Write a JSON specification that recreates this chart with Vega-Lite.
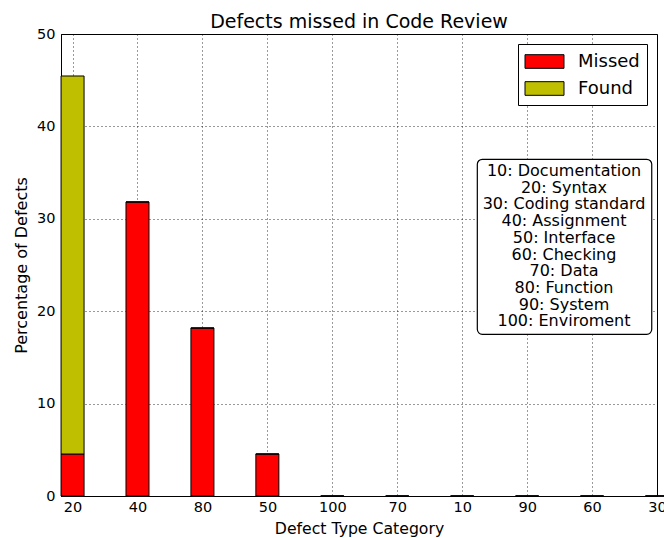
{
  "$schema": "https://vega.github.io/schema/vega-lite/v6.json",
  "width": 596,
  "height": 462,
  "autosize": {"type": "none"},
  "padding": {"left": 61, "top": 34, "right": 7, "bottom": 42},
  "title": {"text": "Defects missed in Code Review", "fontSize": 19, "font": "DejaVu Sans", "fontWeight": "normal", "color": "black", "anchor": "middle", "frame": "group", "offset": -6},
  "config": {
    "font": "DejaVu Sans",
    "view": {"stroke": "black", "strokeWidth": 1},
    "axis": {
      "domainColor": "black", "domainWidth": 1,
      "ticks": false,
      "grid": true, "gridColor": "black", "gridDash": [1, 3], "gridWidth": 0.8, "gridOpacity": 1,
      "labelFont": "DejaVu Sans", "labelFontSize": 14.5, "labelColor": "black",
      "titleFont": "DejaVu Sans", "titleFontSize": 15.7, "titleFontWeight": "normal", "titleColor": "black"
    },
    "legend": {
      "orient": "top-right", "offset": 10,
      "strokeColor": "black", "fillColor": "white", "padding": 7, "cornerRadius": 0,
      "labelFont": "DejaVu Sans", "labelFontSize": 18, "labelColor": "black",
      "symbolType": "M-2,-0.7H2V0.7H-2Z", "symbolSize": 380, "symbolStrokeColor": "black", "symbolStrokeWidth": 1, "symbolOpacity": 1,
      "symbolOffset": 9, "labelOffset": 23,
      "rowPadding": 7
    }
  },
  "layer": [
    {
      "data": {"values": [
        {"idx": 0, "code": "20", "status": "Missed", "pct": 4.545},
        {"idx": 0, "code": "20", "status": "Found", "pct": 40.91},
        {"idx": 1, "code": "40", "status": "Missed", "pct": 31.82},
        {"idx": 1, "code": "40", "status": "Found", "pct": 0},
        {"idx": 2, "code": "80", "status": "Missed", "pct": 18.18},
        {"idx": 2, "code": "80", "status": "Found", "pct": 0},
        {"idx": 3, "code": "50", "status": "Missed", "pct": 4.545},
        {"idx": 3, "code": "50", "status": "Found", "pct": 0},
        {"idx": 4, "code": "100", "status": "Missed", "pct": 0},
        {"idx": 4, "code": "100", "status": "Found", "pct": 0},
        {"idx": 5, "code": "70", "status": "Missed", "pct": 0},
        {"idx": 5, "code": "70", "status": "Found", "pct": 0},
        {"idx": 6, "code": "10", "status": "Missed", "pct": 0},
        {"idx": 6, "code": "10", "status": "Found", "pct": 0},
        {"idx": 7, "code": "90", "status": "Missed", "pct": 0},
        {"idx": 7, "code": "90", "status": "Found", "pct": 0},
        {"idx": 8, "code": "60", "status": "Missed", "pct": 0},
        {"idx": 8, "code": "60", "status": "Found", "pct": 0},
        {"idx": 9, "code": "30", "status": "Missed", "pct": 0},
        {"idx": 9, "code": "30", "status": "Found", "pct": 0}
      ]},
      "mark": {"type": "bar", "size": 23, "stroke": "black", "strokeWidth": 1},
      "encoding": {
        "x": {"field": "idx", "type": "quantitative",
              "scale": {"domain": [-0.178, 9], "nice": false, "zero": false, "padding": 0},
              "axis": {"title": "Defect Type Category", "values": [0,1,2,3,4,5,6,7,8,9],
                       "labelExpr": "['20','40','80','50','100','70','10','90','60','30'][datum.value]",
                       "labelAngle": 0, "labelPadding": 4, "titlePadding": 8, "labelOverlap": false, "labelFlush": false}},
        "y": {"field": "pct", "type": "quantitative", "stack": "zero",
              "scale": {"domain": [0, 50], "nice": false},
              "axis": {"title": "Percentage of Defects", "values": [0,10,20,30,40,50], "labelPadding": 6, "titlePadding": 7, "titleFontSize": 16}},
        "color": {"field": "status", "type": "nominal",
                  "scale": {"domain": ["Missed", "Found"], "range": ["#ff0000", "#bfbf00"]},
                  "legend": {"title": null}},
        "order": {"field": "status", "sort": "descending"}
      }
    },
    {
      "data": {"values": [{"note": "10: Documentation\n20: Syntax\n30: Coding standard\n40: Assignment\n50: Interface\n60: Checking\n70: Data\n80: Function\n90: System\n100: Enviroment"}]},
      "layer": [
        {
          "mark": {"type": "rect", "fill": "white", "stroke": "black", "strokeWidth": 1.2, "cornerRadius": 5},
          "encoding": {
            "x": {"datum": 6.233},
            "x2": {"datum": 8.919},
            "y": {"datum": 36.44},
            "y2": {"datum": 17.5}
          }
        },
        {
          "mark": {"type": "text", "font": "DejaVu Sans", "fontSize": 16, "lineHeight": 16.7, "align": "center", "baseline": "middle", "lineBreak": "\n", "color": "black"},
          "encoding": {
            "x": {"datum": 7.568},
            "y": {"datum": 35.17},
            "text": {"field": "note"}
          }
        }
      ]
    }
  ]
}
